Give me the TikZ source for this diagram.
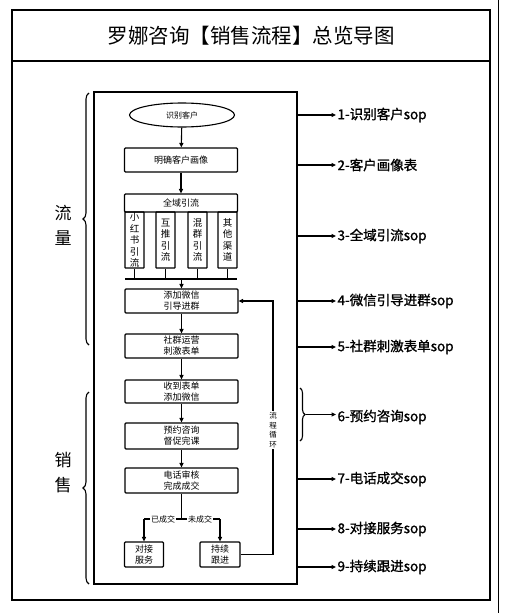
\documentclass[tikz,border=0pt]{standalone}
\usepackage{fontspec}
\setmainfont{Noto Sans CJK SC}
\newfontfamily\heavycjk{Noto Sans CJK SC}[FakeBold=1.2]
\usetikzlibrary{arrows.meta,decorations.pathreplacing,shapes.geometric}

\begin{document}
\begin{tikzpicture}[x=1pt,y=-1pt,
  line width=1.1pt,
  >={Triangle[length=4.5pt,width=4pt]},
  stepbox/.style={draw, rounded corners=1pt, minimum width=113pt, minimum height=24pt,
    inner sep=0pt, align=center, font=\fontsize{9}{11}\selectfont},
  chanbox/.style={draw, rounded corners=0.5pt, minimum width=19pt, minimum height=56pt,
    inner sep=0pt, align=center, font=\fontsize{9.5}{11.5}\selectfont},
  smallbox/.style={stepbox, minimum width=39pt, minimum height=25pt},
  sop/.style={anchor=west, inner sep=1pt, font=\heavycjk\fontsize{13.5}{15}\selectfont},
  onlabel/.style={fill=white, inner sep=1pt, font=\fontsize{8}{9}\selectfont},
  sidelabel/.style={align=center, font=\fontsize{17}{25}\selectfont},
  bracedeco/.style={decorate, decoration={brace, amplitude=#1}},
]
\useasboundingbox (0,0) rectangle (504,613);

% page frame and title
\draw[line width=1.3pt] (12,10) rectangle (490,600);
\draw[line width=1.3pt] (12,61) -- (490,61);
\draw[line width=0.8pt] (498,0) -- (498,613);
\node[font=\fontsize{20.5}{22}\selectfont] (title) at (251,36) {罗娜咨询【销售流程】总览导图};

% flow container
\node[draw, line width=1.2pt, minimum width=203pt, minimum height=492pt, inner sep=0pt]
  (frame) at (195.5,338) {};

% left groupings
\draw[bracedeco=6pt] (89,345) -- (89,93);
\draw[bracedeco=6pt] (89,584) -- (89,392);
\node[sidelabel] (traffic) at (63,225) {流\\量};
\node[sidelabel] (sales) at (63,473) {销\\售};

% flow steps
\node[draw, ellipse, minimum width=105pt, minimum height=24pt, inner sep=0pt,
  font=\fontsize{8}{9}\selectfont] (start) at (182,115) {识别客户};
\node[stepbox] (portrait) at (181,160) {明确客户画像};
\node[stepbox, minimum height=18pt] (hdr) at (181,203) {全域引流};
\node[chanbox] (ch1) at (134.5,240) {小\\红\\书\\引\\流};
\node[chanbox] (ch2) at (165.5,240) {互\\推\\引\\流};
\node[chanbox] (ch3) at (197.5,240) {混\\群\\引\\流};
\node[chanbox] (ch4) at (227.5,240) {其\\他\\渠\\道};
\coordinate (busL) at (125,279);
\coordinate (busR) at (237,279);
\coordinate (busM) at (181.5,279);
\node[stepbox] (wechat) at (181.5,301) {添加微信\\引导进群};
\node[stepbox] (community) at (181.5,346) {社群运营\\刺激表单};
\node[stepbox, minimum height=23pt] (form) at (181.5,391.5) {收到表单\\添加微信};
\node[stepbox, minimum height=26pt] (consult) at (181.5,436) {预约咨询\\督促完课};
\node[stepbox, minimum height=25pt] (phone) at (181.5,480.5) {电话审核\\完成成交};
\coordinate (splitL) at (144,519);
\coordinate (splitR) at (220,519);
\coordinate (splitM) at (181.5,519);
\node[smallbox] (service) at (144,554.5) {对接\\服务};
\node[smallbox, minimum width=40pt] (follow) at (220,554.5) {持续\\跟进};
\coordinate (loopB) at (273,554.5);
\coordinate (loopT) at (273,301);

% flow connectors
\draw[->] (start) -- (portrait);
\draw[->] (portrait) -- (hdr);
\foreach \c in {ch1,ch2,ch3,ch4} \draw (\c.south) -- (\c.south |- busL);
\draw (busL) -- (busR);
\draw[->] (busM) -- (wechat);
\draw[->] (wechat) -- (community);
\draw[->] (community) -- (form);
\draw[->] (form) -- (consult);
\draw[->] (consult) -- (phone);
\draw (phone) -- (splitM);
\draw (splitL) -- (splitR);
\node[onlabel] (done) at (163,519) {已成交};
\node[onlabel] (notdone) at (200,519) {未成交};
\draw[->] (splitL) -- (service);
\draw[->] (splitR) -- (follow);
\draw[->] (follow.east) -- (loopB) -- (loopT) -- (wechat.east);
\node[fill=white, inner sep=1pt, align=center, font=\fontsize{7.5}{9.5}\selectfont]
  (looplabel) at (273,430) {流\\程\\循\\环};

% SOP documents
\node[sop] (sop1) at (336,115) {1-识别客户sop};
\node[sop] (sop2) at (336,165) {2-客户画像表};
\node[sop] (sop3) at (336,236) {3-全域引流sop};
\node[sop] (sop4) at (336,301) {4-微信引导进群sop};
\node[sop] (sop5) at (336,347) {5-社群刺激表单sop};
\node[sop] (sop6) at (336,417) {6-预约咨询sop};
\node[sop] (sop7) at (336,479) {7-电话成交sop};
\node[sop] (sop8) at (336,529) {8-对接服务sop};
\node[sop] (sop9) at (336,567) {9-持续跟进sop};
\foreach \s in {sop1,sop2,sop3,sop4,sop5,sop7,sop8,sop9}
  \draw[->] (frame.east |- \s.west) -- (\s.west);
\draw[bracedeco=5pt] (300,388) -- (300,441);
\coordinate (brace6) at (305.5,414.5);
\draw[->] (brace6) -- (sop6.west |- brace6);
\end{tikzpicture}
\end{document}
